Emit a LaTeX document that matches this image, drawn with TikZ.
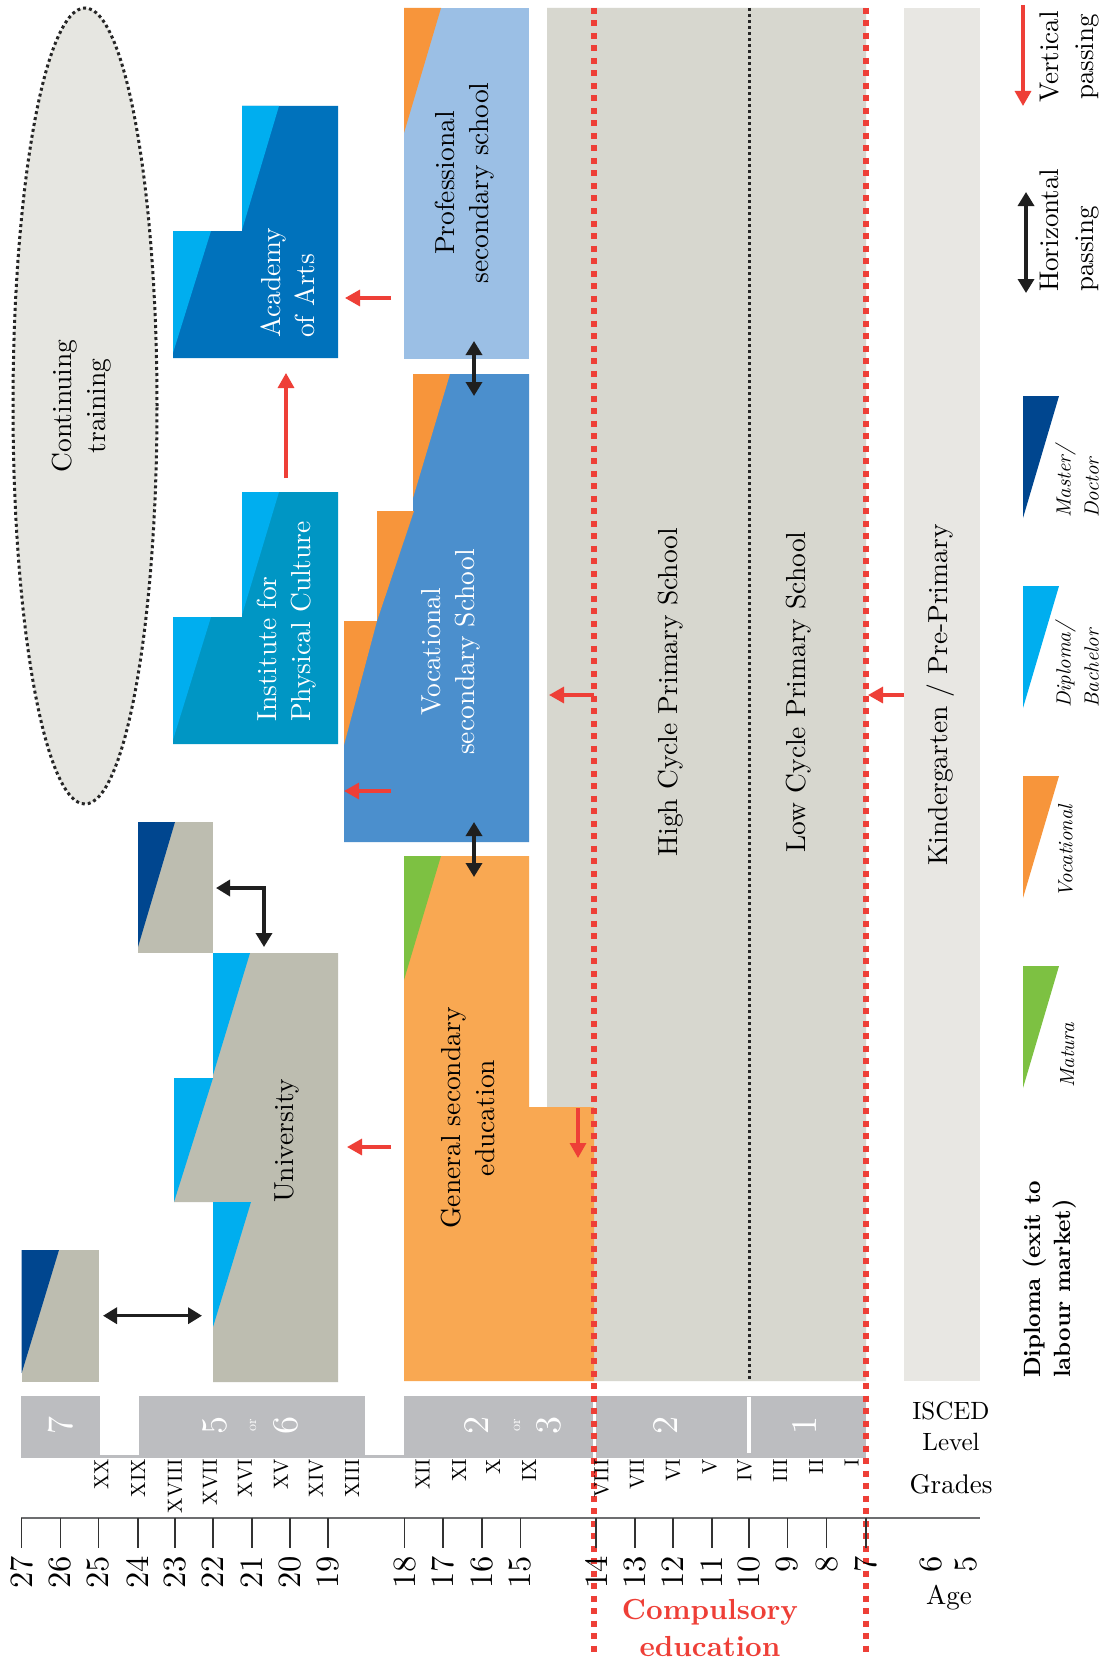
\documentclass[tikz,border=0pt]{standalone}
\usepackage{fontspec}
\setmainfont{lmroman10-regular}[Extension=.otf,BoldFont=lmroman10-bold,ItalicFont=lmroman10-italic,BoldItalicFont=lmroman10-bolditalic]
\usetikzlibrary{arrows.meta}
\definecolor{uni}{HTML}{BDBDB0}
\definecolor{master}{HTML}{00468F}
\definecolor{bach}{HTML}{00AEEF}
\definecolor{voc}{HTML}{F7953B}
\definecolor{gen}{HTML}{F9A852}
\definecolor{matura}{HTML}{7DC142}
\definecolor{prof}{HTML}{9BBFE5}
\definecolor{vocblue}{HTML}{4B8FCD}
\definecolor{academy}{HTML}{0072BC}
\definecolor{inst}{HTML}{0096C4}
\definecolor{prim}{HTML}{D7D7CF}
\definecolor{kinder}{HTML}{E8E7E3}
\definecolor{ellfill}{HTML}{E6E6E1}
\definecolor{isced}{HTML}{BCBDC0}
\definecolor{redline}{HTML}{EE3F37}
\definecolor{axisgray}{HTML}{6D6E70}
\begin{document}
\begin{tikzpicture}[x=1pt,y=-1pt,
  lab/.style={rotate=90,align=center,inner sep=0pt,font=\fontsize{27.5}{34}\selectfont},
  legtext/.style={rotate=90,align=left,inner sep=0pt,anchor=north west,font=\fontsize{20.5}{28}\selectfont\itshape},
  gradelab/.style={rotate=90,anchor=east,inner sep=0pt,font=\fontsize{20.5}{21}\selectfont},
  agelab/.style={rotate=90,anchor=east,inner sep=0pt,font=\fontsize{32.5}{34}\selectfont},
  isclab/.style={rotate=90,inner sep=0pt,text=white,font=\fontsize{36}{40}\selectfont},
  iscor/.style={rotate=90,inner sep=0pt,text=white,font=\fontsize{14}{14}\selectfont},
  redarr/.style={draw=redline,line width=3.2pt,-{Triangle[length=15pt,width=16pt]}},
  blkarr/.style={draw=black!88,line width=3.4pt,{Triangle[length=14pt,width=16pt]}-{Triangle[length=14pt,width=16pt]}},
  reddots/.style={draw=redline,line width=6pt,dash pattern=on 6pt off 6.5pt},
  blackdots/.style={draw=black!85,line width=3pt,dash pattern=on 3pt off 3pt},
]
\useasboundingbox (0,0) rectangle (1108,1664);
\fill[white] (0,0) rectangle (1108,1664);

% continuing training
\draw[blackdots,fill=ellfill] (85,406) ellipse [x radius=72pt, y radius=398pt];

% primary school and kindergarten
\fill[prim] (547,8) -- (866,8) -- (866,1381) -- (594,1381) -- (594,1107) -- (547,1107) -- cycle;
\fill[kinder] (904,8) rectangle (980,1381);

% professional secondary school
\fill[prof] (404,8) rectangle (529,359);
\fill[voc] (404,8) -- (441,8) -- (404,133) -- cycle;

% vocational secondary school
\fill[vocblue] (413,374) -- (529,374) -- (529,842) -- (344,842) -- (344,621) -- (377,621) -- (377,511) -- (413,511) -- cycle;
\fill[voc] (413,374) -- (450,374) -- (413,498) -- cycle;
\fill[voc] (377,511) -- (414,511) -- (377,621) -- cycle;
\fill[voc] (344,621) -- (377,621) -- (344,745) -- cycle;

% general secondary education
\fill[gen] (404,856) -- (529,856) -- (529,1107) -- (594,1107) -- (594,1381) -- (404,1381) -- cycle;
\fill[matura] (404,856) -- (441,856) -- (404,980) -- cycle;

% academy of arts
\fill[academy] (242,106) -- (338,106) -- (338,358) -- (173,358) -- (173,231) -- (242,231) -- cycle;
\fill[bach] (242,106) -- (279,106) -- (242,230) -- cycle;
\fill[bach] (173,231) -- (211,231) -- (173,353) -- cycle;

% institute for physical culture
\fill[inst] (242,492) -- (338,492) -- (338,744) -- (173,744) -- (173,617) -- (242,617) -- cycle;
\fill[bach] (242,492) -- (279,492) -- (242,615) -- cycle;
\fill[bach] (173,617) -- (211,617) -- (173,740) -- cycle;

% master block
\fill[uni] (138,822) rectangle (213,953);
\fill[master] (138,822) -- (175,822) -- (138,947) -- cycle;

% university
\fill[uni] (213,953) -- (338,953) -- (338,1382) -- (213,1382) -- (213,1202) -- (174,1202) -- (174,1078) -- (213,1078) -- cycle;
\fill[bach] (213,953) -- (250,953) -- (213,1075) -- cycle;
\fill[bach] (174,1078) -- (213,1078) -- (174,1202) -- cycle;
\fill[bach] (213,1202) -- (251,1202) -- (213,1327) -- cycle;

% doctoral level
\fill[uni] (21.7,1250) rectangle (99,1382);
\fill[master] (21.7,1250) -- (59,1250) -- (21.7,1373) -- cycle;

% low / high cycle separator
\draw[blackdots] (749,8) -- (749,1381);

% ISCED level bar
\fill[isced] (21.4,1396) rectangle (866,1458);
\fill[white] (100,1394) rectangle (139,1455);
\fill[white] (365,1394) rectangle (404,1455);
\fill[white] (747,1397) rectangle (751,1453);
\draw[white,line width=3pt] (594,1396) -- (594,1458);

% compulsory education limits
\draw[reddots] (594,8) -- (594,1655);
\draw[reddots] (866,8) -- (866,1655);

% age axis
\draw[axisgray,line width=1.6pt] (21.4,1517.7) -- (980,1517.7);
\foreach \a/\x in {27/21.4,26/60.4,25/98.2,24/137.9,23/175,22/212.9,21/252,20/290,19/328,
                   18/404.6,17/442.9,16/482,15/520.4,
                   14/596,13/635,12/673,11/712,10/749,9/787.5,8/826.6,7/866}{
  \draw[black!80,line width=1.4pt] (\x,1517.7) -- (\x,1548);
  \node[agelab] (age\a) at (\x,1556) {\a};
}
\node[agelab] (age6) at (930.6,1556) {6};
\node[agelab] (age5) at (965.7,1556) {5};

% grades
\foreach \g/\x in {XX/101.4,XIX/138,XVIII/175,XVII/210,XVI/245,XV/281,XIV/316,XIII/352,
                   XII/422.5,XI/459,X/493,IX/529,VIII/601.6,VII/637,VI/673,V/709.6,
                   IV/744.7,III/780,II/816,I/851.6}{
  \node[gradelab] (gr\g) at (\x,1459) {\g};
}

% ISCED numbers
\node[isclab] (isc7) at (61,1425) {7};
\node[isclab] (isc5) at (215,1425) {5};
\node[iscor] (iscor1) at (253,1425) {or};
\node[isclab] (isc6) at (286,1425) {6};
\node[isclab] (isc2a) at (477,1425) {2};
\node[iscor] (iscor2) at (517,1425) {or};
\node[isclab] (isc3) at (549,1425) {3};
\node[isclab] (isc2b) at (666,1425) {2};
\node[isclab] (isc1) at (804,1425) {1};

% row captions
\node[align=center,inner sep=0pt,font=\fontsize{25}{31}\selectfont] (capIsced) at (951,1426) {ISCED\\Level};
\node[inner sep=0pt,font=\fontsize{27}{30}\selectfont] (capGrades) at (951,1484) {Grades};
\node[inner sep=0pt,font=\fontsize{27}{30}\selectfont] (capAge) at (949,1598) {Age};
\node[align=center,inner sep=0pt,text=redline,font=\fontsize{29}{37}\selectfont\bfseries] (capComp) at (710,1628) {Compulsory\\education};

% school labels
\node[lab] (tCont) at (82,406) {Continuing\\training};
\node[lab,text=white,align=left,anchor=west] (tAcad) at (288,338) {Academy\\of Arts};
\node[lab,text=white,align=left,anchor=west] (tInst) at (287,722) {Institute for\\Physical Culture};
\node[lab,text=white] (tVoc) at (451,652) {Vocational\\secondary School};
\node[lab] (tProf) at (465,183) {Professional\\secondary school};
\node[lab] (tGen) at (468,1118) {General secondary\\education};
\node[lab] (tUni) at (287,1141) {University};
\node[lab] (tHigh) at (671,692) {High Cycle Primary School};
\node[lab] (tLow) at (799,692) {Low Cycle Primary School};
\node[lab] (tKind) at (941,695) {Kindergarten / Pre-Primary};

% passing arrows
\coordinate (profOut) at (391,298);  \coordinate (acadIn) at (345,298);
\coordinate (instOut) at (286,478);  \coordinate (acadBot) at (286,373);
\coordinate (vocOut) at (391,791);   \coordinate (vocEdge) at (344,791);
\coordinate (genOut) at (391,1147);  \coordinate (uniIn) at (347,1147);
\coordinate (genTop) at (578,1108);  \coordinate (genDown) at (578,1158);
\coordinate (primOut) at (594,695);  \coordinate (vocIn) at (549,695);
\coordinate (kindOut) at (904,695);  \coordinate (primIn) at (868,695);
\draw[redarr] (profOut) -- (acadIn);
\draw[redarr] (instOut) -- (acadBot);
\draw[redarr] (vocOut) -- (vocEdge);
\draw[redarr] (genOut) -- (uniIn);
\draw[redarr] (genTop) -- (genDown);
\draw[redarr] (primOut) -- (vocIn);
\draw[redarr] (kindOut) -- (primIn);

\coordinate (docR) at (103,1315.7);   \coordinate (uniL) at (202,1315.7);
\coordinate (mastR) at (216,888);     \coordinate (uniTop) at (264,947);
\coordinate (profB) at (474,341);     \coordinate (vocT) at (474,396);
\coordinate (vocB) at (474,822);      \coordinate (genT) at (474,877);
\draw[blkarr] (docR) -- (uniL);
\draw[blkarr] (mastR) -| (uniTop);
\draw[blkarr] (profB) -- (vocT);
\draw[blkarr] (vocB) -- (genT);

% legend
\coordinate (lgRedA) at (1023,5);    \coordinate (lgRedB) at (1023,106);
\coordinate (lgBlkA) at (1026,192);  \coordinate (lgBlkB) at (1026,293);
\draw[redarr] (lgRedA) -- (lgRedB);
\draw[blkarr] (lgBlkA) -- (lgBlkB);
\node[rotate=90,align=center,inner sep=0pt,font=\fontsize{27}{35}\selectfont] (lgVert) at (1069.5,57) {Vertical\\passing};
\node[rotate=90,align=left,anchor=west,inner sep=0pt,font=\fontsize{27}{35}\selectfont] (lgHorz) at (1069.5,292) {Horizontal\\passing};

\fill[master] (1023,396) -- (1059,396) -- (1023,518) -- cycle;
\fill[bach] (1023,586) -- (1059,586) -- (1023,708) -- cycle;
\fill[voc] (1023,776) -- (1059,776) -- (1023,898) -- cycle;
\fill[matura] (1023,966) -- (1059,966) -- (1023,1088) -- cycle;
\node[legtext] (lgMast) at (1055,518) {Master/\\Doctor};
\node[legtext] (lgBach) at (1055,708) {Diploma/\\Bachelor};
\node[legtext] (lgVoc) at (1058,898) {Vocational};
\node[legtext] (lgMat) at (1060,1088) {Matura};

\node[rotate=90,align=left,anchor=west,inner sep=0pt,font=\fontsize{23.5}{30}\selectfont\bfseries] (lgDipl) at (1050,1378) {Diploma (exit to\\labour market)};
\end{tikzpicture}
\end{document}
